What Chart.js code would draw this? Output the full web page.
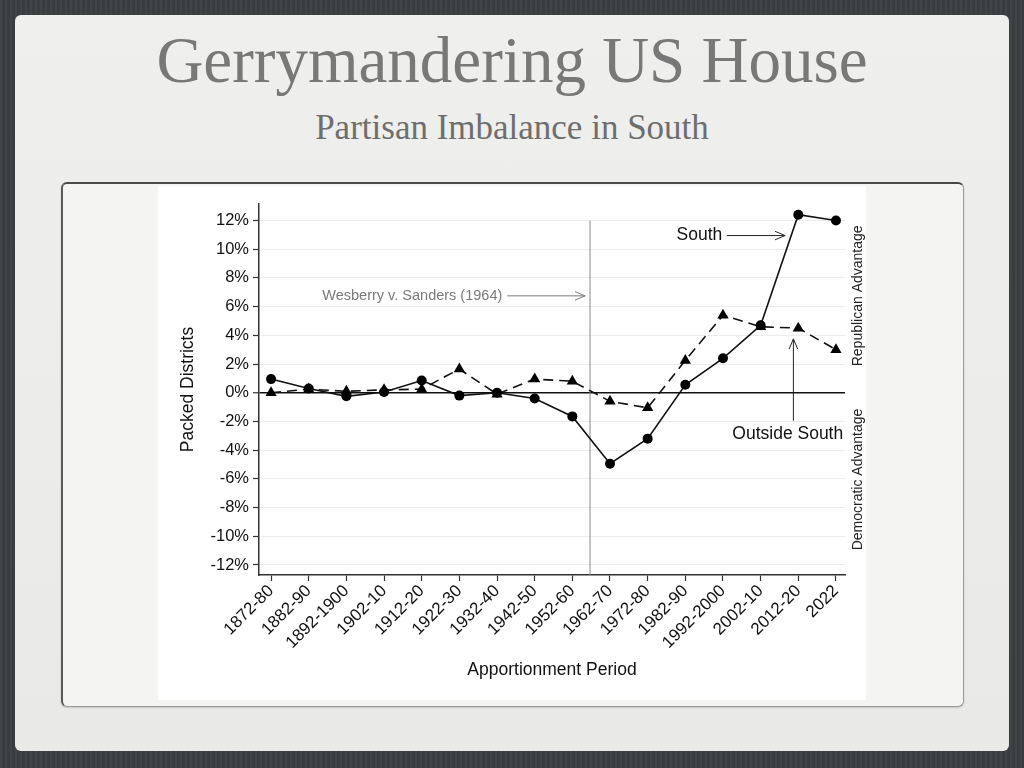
<!DOCTYPE html>
<html>
<head>
<meta charset="utf-8">
<script src="https://cdn.jsdelivr.net/npm/chart.js@4.4.1/dist/chart.umd.min.js"></script>
<style>
  html, body { margin: 0; padding: 0; }
  body {
    width: 1024px; height: 768px; overflow: hidden; position: relative;
    background: #3c3f42;
    background-image: repeating-linear-gradient(90deg, rgba(255,255,255,0.03) 0 2px, rgba(0,0,0,0.04) 2px 5px);
  }
  #slide {
    position: absolute; left: 15px; top: 15px; width: 994px; height: 736px;
    background: linear-gradient(#efefed, #e9e9e7);
    border-radius: 6px;
  }
  #title {
    position: absolute; left: 0; top: 28px; width: 1024px; text-align: center;
    font-family: "Liberation Serif", "DejaVu Serif", serif; font-size: 65px; color: #787878;
    line-height: 1;
  }
  #subtitle {
    position: absolute; left: 0; top: 110px; width: 1024px; text-align: center;
    font-family: "Liberation Serif", "DejaVu Serif", serif; font-size: 35px; color: #6e6e6e;
    line-height: 1;
  }
  #frame {
    position: absolute; left: 61px; top: 182px; width: 900px; height: 522px;
    background: #f4f4f2; border-radius: 6px;
    border: 1px solid #9a9a98; border-top: 2px solid #4a4a4a; border-left: 2px solid #5a5a5a;
    box-shadow: 0 1px 2px rgba(0,0,0,0.15);
  }
  #box {
    position: absolute; left: 158px; top: 186px; width: 708px; height: 514px; background: #fff;
  }
</style>
</head>
<body>
<div id="slide"></div>
<div id="title">Gerrymandering US House</div>
<div id="subtitle">Partisan Imbalance in South</div>
<div id="frame"></div>
<div id="box"><canvas id="chart" width="708" height="514"></canvas></div>
<script>
// apportionment periods
const periods = ['1872-80', '1882-90', '1892-1900', '1902-10', '1912-20', '1922-30', '1932-40', '1942-50',
  '1952-60', '1962-70', '1972-80', '1982-90', '1992-2000', '2002-10', '2012-20', '2022'];
// packed districts (%)
const south = [0.95, 0.3, -0.25, 0.05, 0.85, -0.2, 0.0, -0.4, -1.65, -4.95, -3.2, 0.55, 2.4, 4.7, 12.4, 12.0];
const outsideSouth = [0.0, 0.25, 0.1, 0.2, 0.25, 1.65, -0.1, 0.95, 0.8, -0.6, -1.05, 2.25, 5.4, 4.6, 4.5, 3.0];
const yTicks = [-12, -10, -8, -6, -4, -2, 0, 2, 4, 6, 8, 10, 12];
const wesberryAt = 8.47; // between 1952-60 and 1962-70

const font = '"Liberation Sans", Arial, sans-serif';

function arrow(ctx, x1, y1, x2, y2) {
  const a = Math.atan2(y2 - y1, x2 - x1);
  ctx.beginPath();
  ctx.moveTo(x1, y1); ctx.lineTo(x2, y2);
  ctx.moveTo(x2 - 11 * Math.cos(a - 0.4), y2 - 11 * Math.sin(a - 0.4));
  ctx.lineTo(x2, y2);
  ctx.lineTo(x2 - 11 * Math.cos(a + 0.4), y2 - 11 * Math.sin(a + 0.4));
  ctx.stroke();
}

const notes = {
  id: 'notes',
  beforeDatasetsDraw(chart) {
    const { ctx, scales: { x, y } } = chart;
    ctx.save();
    ctx.strokeStyle = '#8a8a8a'; ctx.lineWidth = 1;
    ctx.beginPath();
    ctx.moveTo(x.getPixelForValue(wesberryAt), y.getPixelForValue(12));
    ctx.lineTo(x.getPixelForValue(wesberryAt), chart.chartArea.bottom);
    ctx.stroke();
    ctx.restore();
  },
  afterDatasetsDraw(chart) {
    const { ctx, chartArea, scales: { x, y } } = chart;
    ctx.save();
    // Wesberry note
    ctx.font = '14.5px ' + font; ctx.fillStyle = '#7a7a7a'; ctx.strokeStyle = '#7a7a7a'; ctx.lineWidth = 1;
    ctx.textAlign = 'right'; ctx.textBaseline = 'middle';
    const wy = y.getPixelForValue(6.75);
    ctx.fillText('Wesberry v. Sanders (1964)', x.getPixelForValue(6.14), wy);
    arrow(ctx, x.getPixelForValue(6.27), wy, x.getPixelForValue(8.34), wy);
    // South label
    ctx.font = '17.5px ' + font; ctx.fillStyle = '#111'; ctx.strokeStyle = '#222';
    const sy = y.getPixelForValue(10.95);
    ctx.fillText('South', x.getPixelForValue(11.98), sy);
    arrow(ctx, x.getPixelForValue(12.1), sy, x.getPixelForValue(13.65), sy);
    // Outside South label
    ctx.textAlign = 'center';
    ctx.fillText('Outside South', x.getPixelForValue(13.72), y.getPixelForValue(-2.9));
    const ax = x.getPixelForValue(13.87);
    arrow(ctx, ax, y.getPixelForValue(-1.95), ax, y.getPixelForValue(3.75));
    // side labels
    ctx.font = '14px ' + font; ctx.fillStyle = '#222';
    const rx = chartArea.right + 13;
    [['Republican Advantage', 6.75], ['Democratic Advantage', -6.05]].forEach(([t, v]) => {
      ctx.save();
      ctx.translate(rx, y.getPixelForValue(v));
      ctx.rotate(-Math.PI / 2);
      ctx.fillText(t, 0, 0);
      ctx.restore();
    });
    ctx.restore();
  }
};

new Chart(document.getElementById('chart'), {
  type: 'line',
  data: {
    datasets: [{
      label: 'South',
      data: south.map((v, i) => ({ x: i, y: v })),
      borderColor: '#111', backgroundColor: '#000', borderWidth: 1.6,
      pointStyle: 'circle', pointRadius: 5, pointBorderWidth: 0, tension: 0
    }, {
      label: 'Outside South',
      data: outsideSouth.map((v, i) => ({ x: i, y: v })),
      borderColor: '#111', backgroundColor: '#000', borderWidth: 1.6, borderDash: [10, 6],
      pointStyle: 'triangle', pointRadius: 6.5, pointBorderWidth: 0, tension: 0
    }]
  },
  options: {
    responsive: false, animation: false,
    layout: { padding: { left: 0, right: 21, top: 18, bottom: 0 } },
    plugins: { legend: { display: false }, tooltip: { enabled: false } },
    scales: {
      x: {
        type: 'linear', min: -0.32, max: 15.24,
        afterBuildTicks: s => { s.ticks = periods.map((p, i) => ({ value: i })); },
        afterFit: s => { s.height = 125; },
        ticks: {
          callback: v => periods[v], autoSkip: false, minRotation: 45, maxRotation: 45,
          color: '#111', font: { family: font, size: 17 }, padding: 0
        },
        grid: { drawOnChartArea: false, drawTicks: true, tickLength: 6, tickColor: '#333', tickWidth: 1.2 },
        border: { display: true, color: '#333', width: 1.5 },
        title: { display: true, text: 'Apportionment Period', color: '#111', font: { family: font, size: 17.5 }, padding: { top: 0, bottom: 19 } }
      },
      y: {
        min: -12.7, max: 13.15,
        afterBuildTicks: s => { s.ticks = yTicks.map(v => ({ value: v })); },
        afterFit: s => { s.width = 101; },
        ticks: { callback: v => v + '%', color: '#111', font: { family: font, size: 16.5 }, padding: 4 },
        grid: {
          color: c => (c.tick && c.tick.value === 0) ? '#111' : '#ececec',
          lineWidth: c => (c.tick && c.tick.value === 0) ? 1.5 : 1,
          drawTicks: true, tickLength: 6, tickColor: '#333', tickWidth: 1.2
        },
        border: { display: true, color: '#333', width: 1.5 },
        title: { display: true, text: 'Packed Districts', color: '#111', font: { family: font, size: 17.5 }, padding: { top: 20, bottom: 0 } }
      }
    }
  },
  plugins: [notes]
});
</script>
</body>
</html>
